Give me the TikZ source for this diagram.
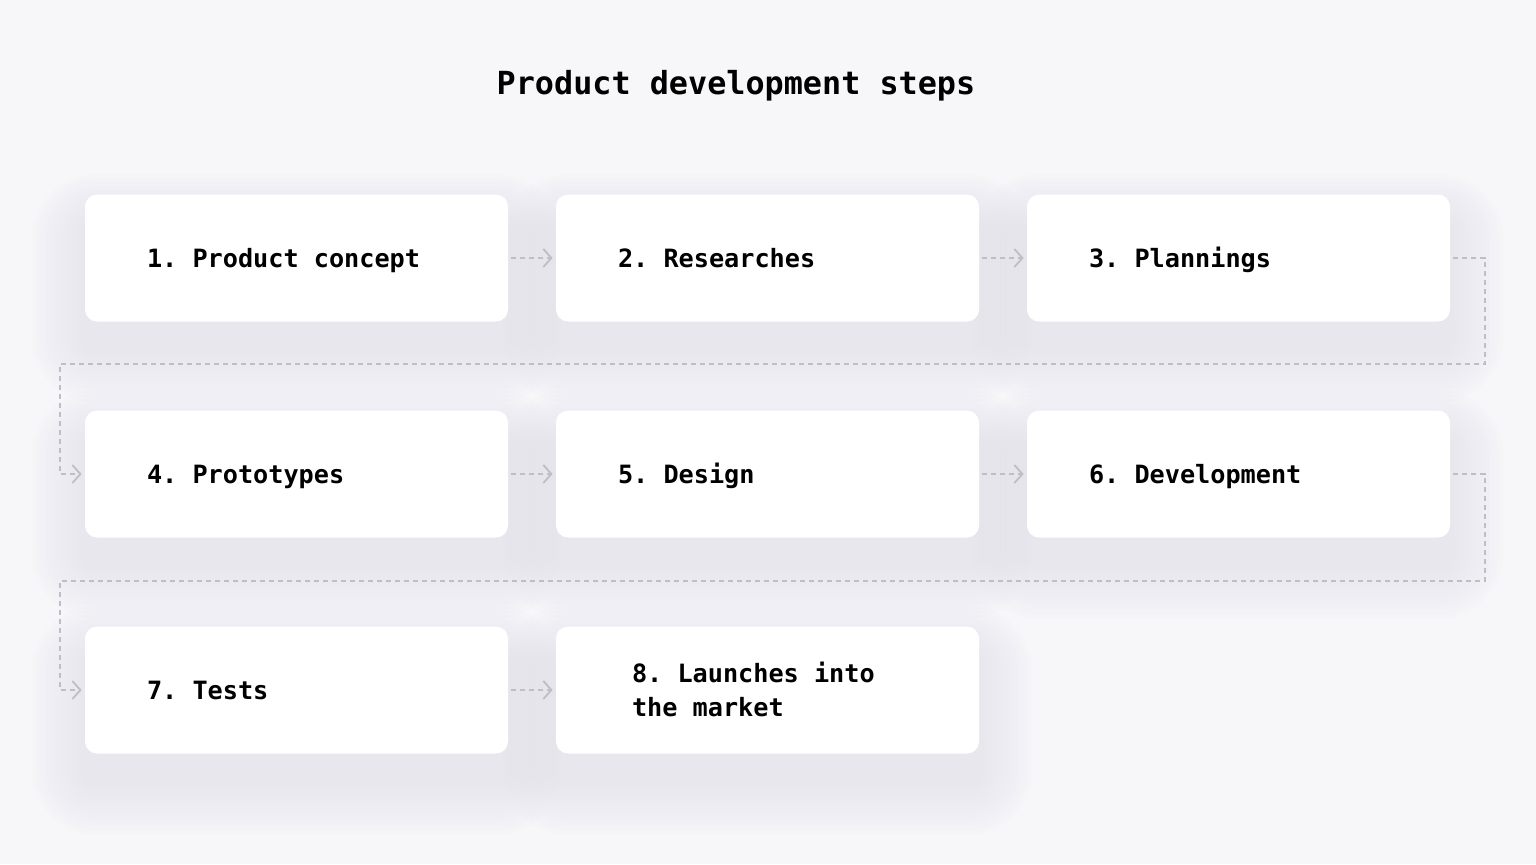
\documentclass[tikz,border=0pt]{standalone}
\usepackage{fontspec}
\setmonofont{DejaVu Sans Mono}
\frenchspacing
\usetikzlibrary{arrows.meta,backgrounds}
\definecolor{bgcol}{HTML}{F7F7F9}
\definecolor{linkcol}{HTML}{BEBEC6}
\definecolor{shadecol}{HTML}{9A9AAE}
\newcommand\stepfont{\ttfamily\bfseries\fontsize{12.6}{17}\selectfont}
\newcommand\titlefont{\ttfamily\bfseries\fontsize{15.9}{18}\selectfont}
\newcommand\monospaces{\spaceskip=0.602em\relax}
\tikzset{
  stepbox/.style={fill=white,rounded corners=6pt,minimum width=211.5pt,minimum height=63.5pt,
    inner xsep=31pt,text width=149.5pt,align=left,font=\stepfont,
    text height=9.2pt,text depth=0pt,execute at begin node=\monospaces},
  link/.style={linkcol,line width=1pt,dash pattern=on 2.5pt off 2pt,
    shorten <=1.5pt,shorten >=1.5pt,
    -{Straight Barb[length=4pt,width=9pt,line width=0.9pt]}}
}
\begin{document}
\begin{tikzpicture}[x=0.5pt,y=-0.5pt]
\useasboundingbox (0,0) rectangle (1536,864);
\node[font=\titlefont] (title) at (736,86) {Product development steps};
% steps, three per row
\foreach \n/\c/\r/\txt in {1/0/0/{1. Product concept},2/1/0/{2. Researches},3/2/0/{3. Plannings},
    4/0/1/{4. Prototypes},5/1/1/{5. Design},6/2/1/{6. Development},7/0/2/{7. Tests}}{
    \node[stepbox] (s\n) at ({296.5+471*\c},{258+216*\r}) {\txt};
    }
\node[stepbox,inner xsep=38pt,text width=135.5pt,text depth=17pt] (s8) at (767.5,690) {8. Launches into\\the market};
% links
\foreach \a/\b in {1/2,2/3,4/5,5/6,7/8}{
    \draw[link] (s\a.east) -- (s\b.west);
    }
\coordinate (t1) at (1485,364);
\coordinate (u1) at (60,364);
\coordinate (t2) at (1485,581);
\coordinate (u2) at (60,581);
\draw[link] (s3.east) -| (t1) -- (u1) |- (s4.west);
\draw[link] (s6.east) -| (t2) -- (u2) |- (s7.west);
% backdrop and soft shadows
\begin{scope}[on background layer]
\fill[bgcol] (0,0) rectangle (1536,864);
\foreach \n in {1,...,8}{
    \foreach \k in {1,...,12}{
        \pgfmathsetmacro\rr{6+2.2*\k}
        \fill[shadecol,opacity=0.013,rounded corners=\rr pt]
          ([shift={(-2.2*\k pt,-14pt+2*\k pt)}]s\n.north west) rectangle ([shift={(2.2*\k pt,-14pt-2.2*\k pt)}]s\n.south east);
        }
    }
\end{scope}
\end{tikzpicture}
\end{document}
